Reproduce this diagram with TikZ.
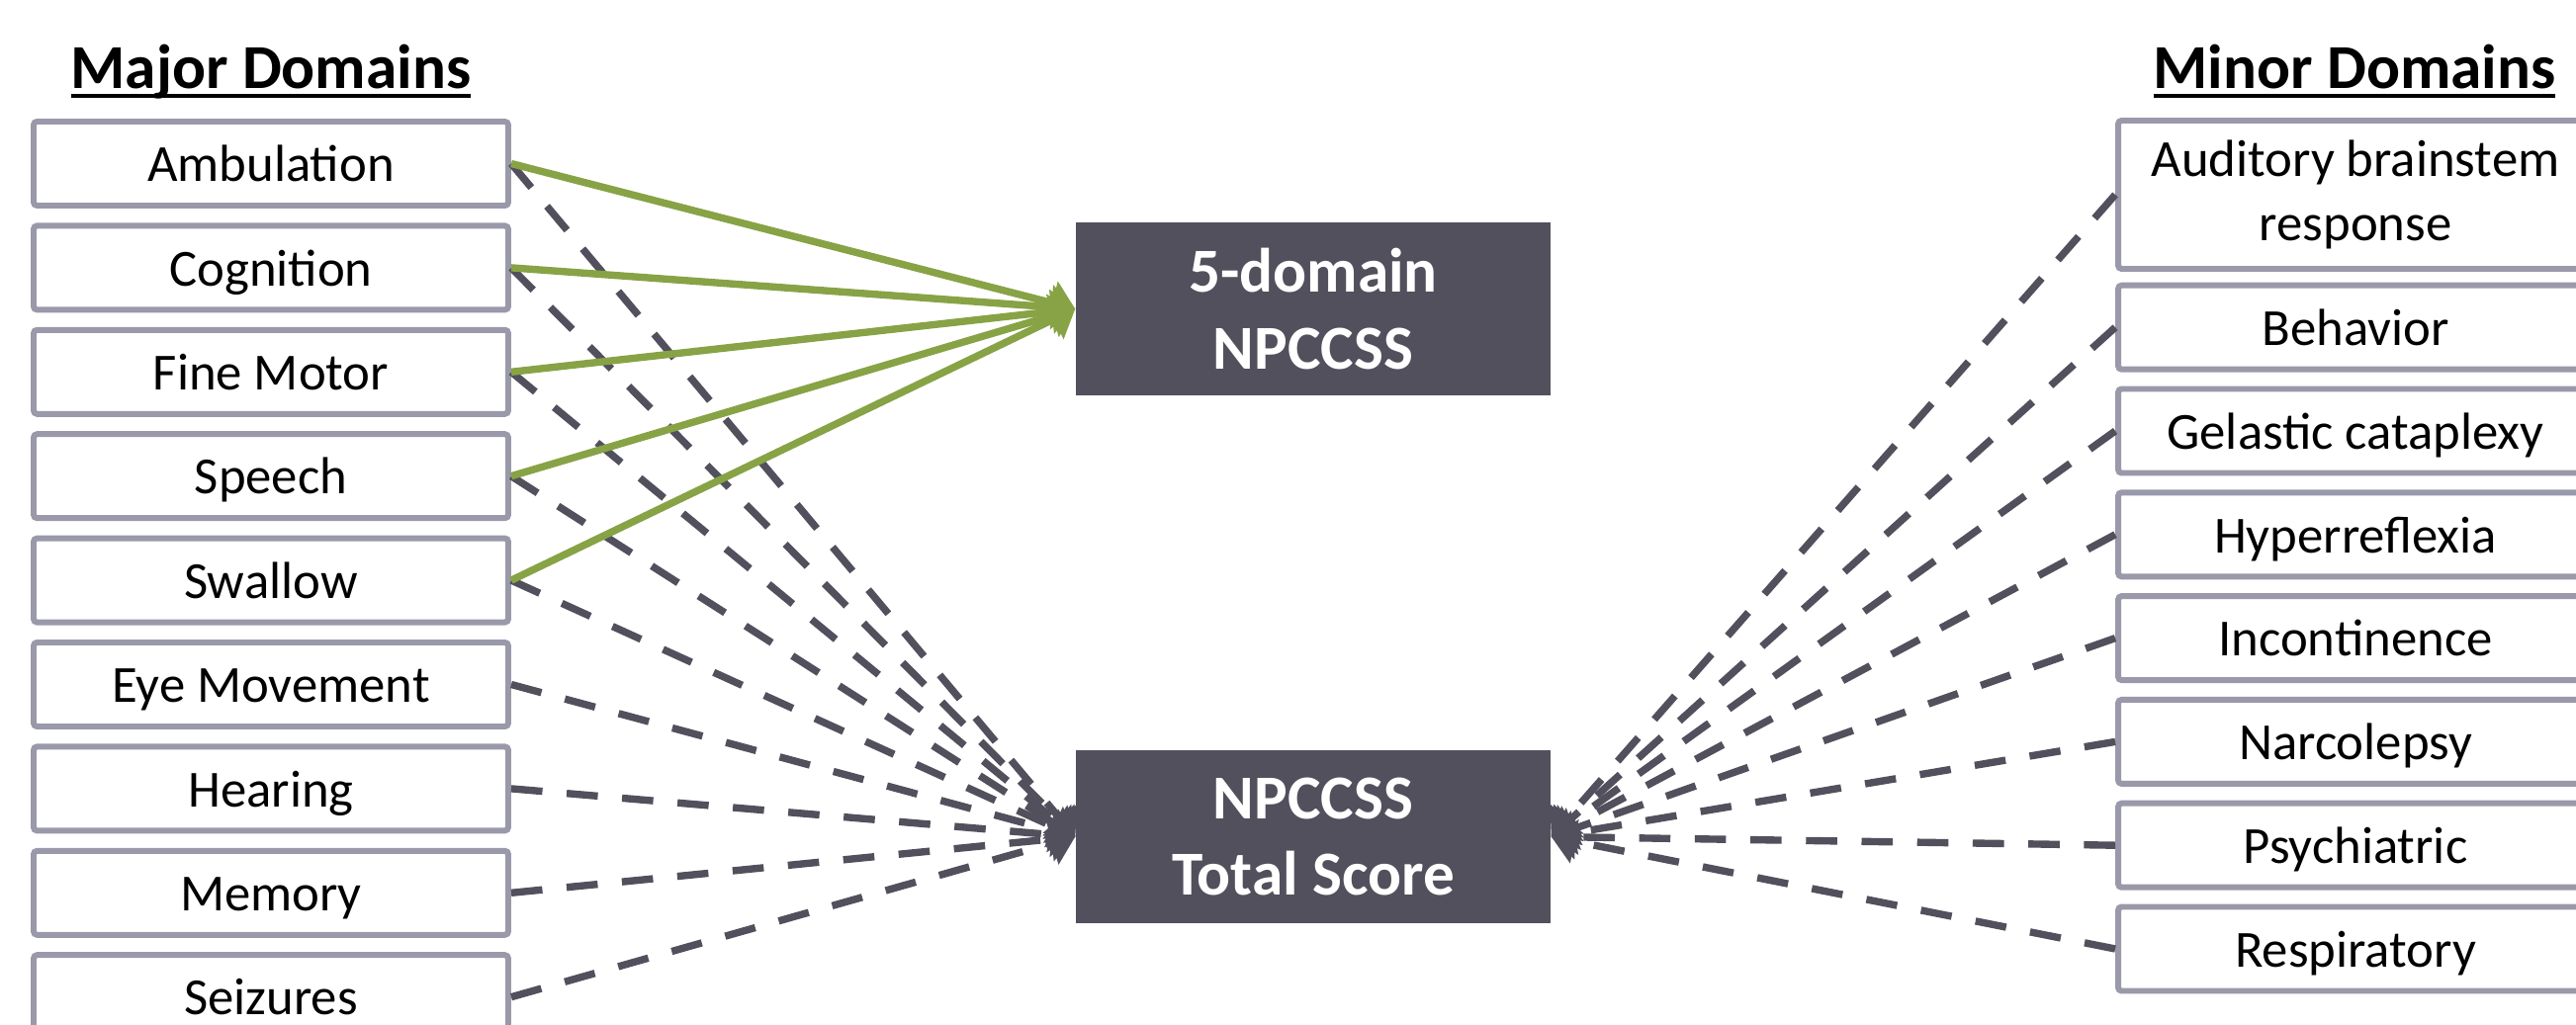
\documentclass[tikz,border=0pt]{standalone}
\usepackage{fontspec}
\setmainfont{Carlito}
\usetikzlibrary{arrows.meta}

\definecolor{boxgray}{RGB}{153,153,170}
\definecolor{darkslate}{RGB}{82,80,92}
\definecolor{leafgreen}{RGB}{135,163,70}
\newcommand{\domainhead}[1]{\setbox0\hbox{#1}\rlap{\usebox0}\rule[-2.6pt]{\wd0}{1.1pt}}

\begin{document}
\begin{tikzpicture}[
	domainbox/.style={draw=boxgray, line width=1.7pt, rounded corners=1pt, fill=white, minimum width=4.8cm, minimum height=0.85cm, inner sep=0pt, align=center, text height=10.4pt, text depth=0pt, font=\fontsize{15}{18.3}\selectfont},
	scorebox/.style={fill=darkslate, text=white, minimum width=4.8cm, minimum height=1.75cm, align=center, font=\fontsize{18}{22}\selectfont\bfseries},
	headline/.style={anchor=base, font=\fontsize{18}{22}\selectfont\bfseries},
	greenline/.style={draw=leafgreen, line width=2.1pt, -{Triangle[length=0.24cm, width=0.44cm]}},
	dashline/.style={draw=darkslate, line width=2.1pt, dash pattern=on 9pt off 7pt, -{Triangle[length=0.24cm, width=0.44cm]}}
	]
	\clip (0,0) rectangle (26.05,10.36);
	
	%headings
	\node[headline] (major) at (2.74, 9.46) {\domainhead{Major Domains}};
	\node[headline] (minor) at (23.81, 9.46) {\domainhead{Minor Domains}};
	
	%scores
	\node[scorebox] (five) at (13.28, 7.235) {5-domain\\NPCCSS};
	\node[scorebox] (total) at (13.28, 1.895) {NPCCSS\\Total Score};
	
	%major domains
	\foreach \name/\txt [count=\i from 0] in {amb/Ambulation, cog/Cognition, fine/Fine Motor, speech/Speech, swallow/Swallow, eye/Eye Movement, hearing/Hearing, memory/Memory, seizures/Seizures}{
		\node[domainbox] (\name) at (2.74, 8.705-\i*1.054) {\txt};
	}
	
	%minor domains
	\node[domainbox, text height={}, text depth={}, minimum height=1.5cm] (abr) at (23.82, 8.39) {Auditory brainstem\\response};
	\foreach \name/\txt [count=\i from 0] in {resp/Respiratory, psych/Psychiatric, narco/Narcolepsy, incont/Incontinence, hyper/Hyperreflexia, gelastic/Gelastic cataplexy, behav/Behavior}{
		\node[domainbox] (\name) at (23.82, 0.76+\i*1.048) {\txt};
	}
	
	%connectors
	\foreach \name in {amb, cog, fine, speech, swallow, eye, hearing, memory, seizures}
		\draw[dashline] (\name.east) -- (total.west);
	\foreach \name in {abr, behav, gelastic, hyper, incont, narco, psych, resp}
		\draw[dashline] (\name.west) -- (total.east);
	\foreach \name in {amb, cog, fine, speech, swallow}
		\draw[greenline] (\name.east) -- (five.west);
\end{tikzpicture}
\end{document}
